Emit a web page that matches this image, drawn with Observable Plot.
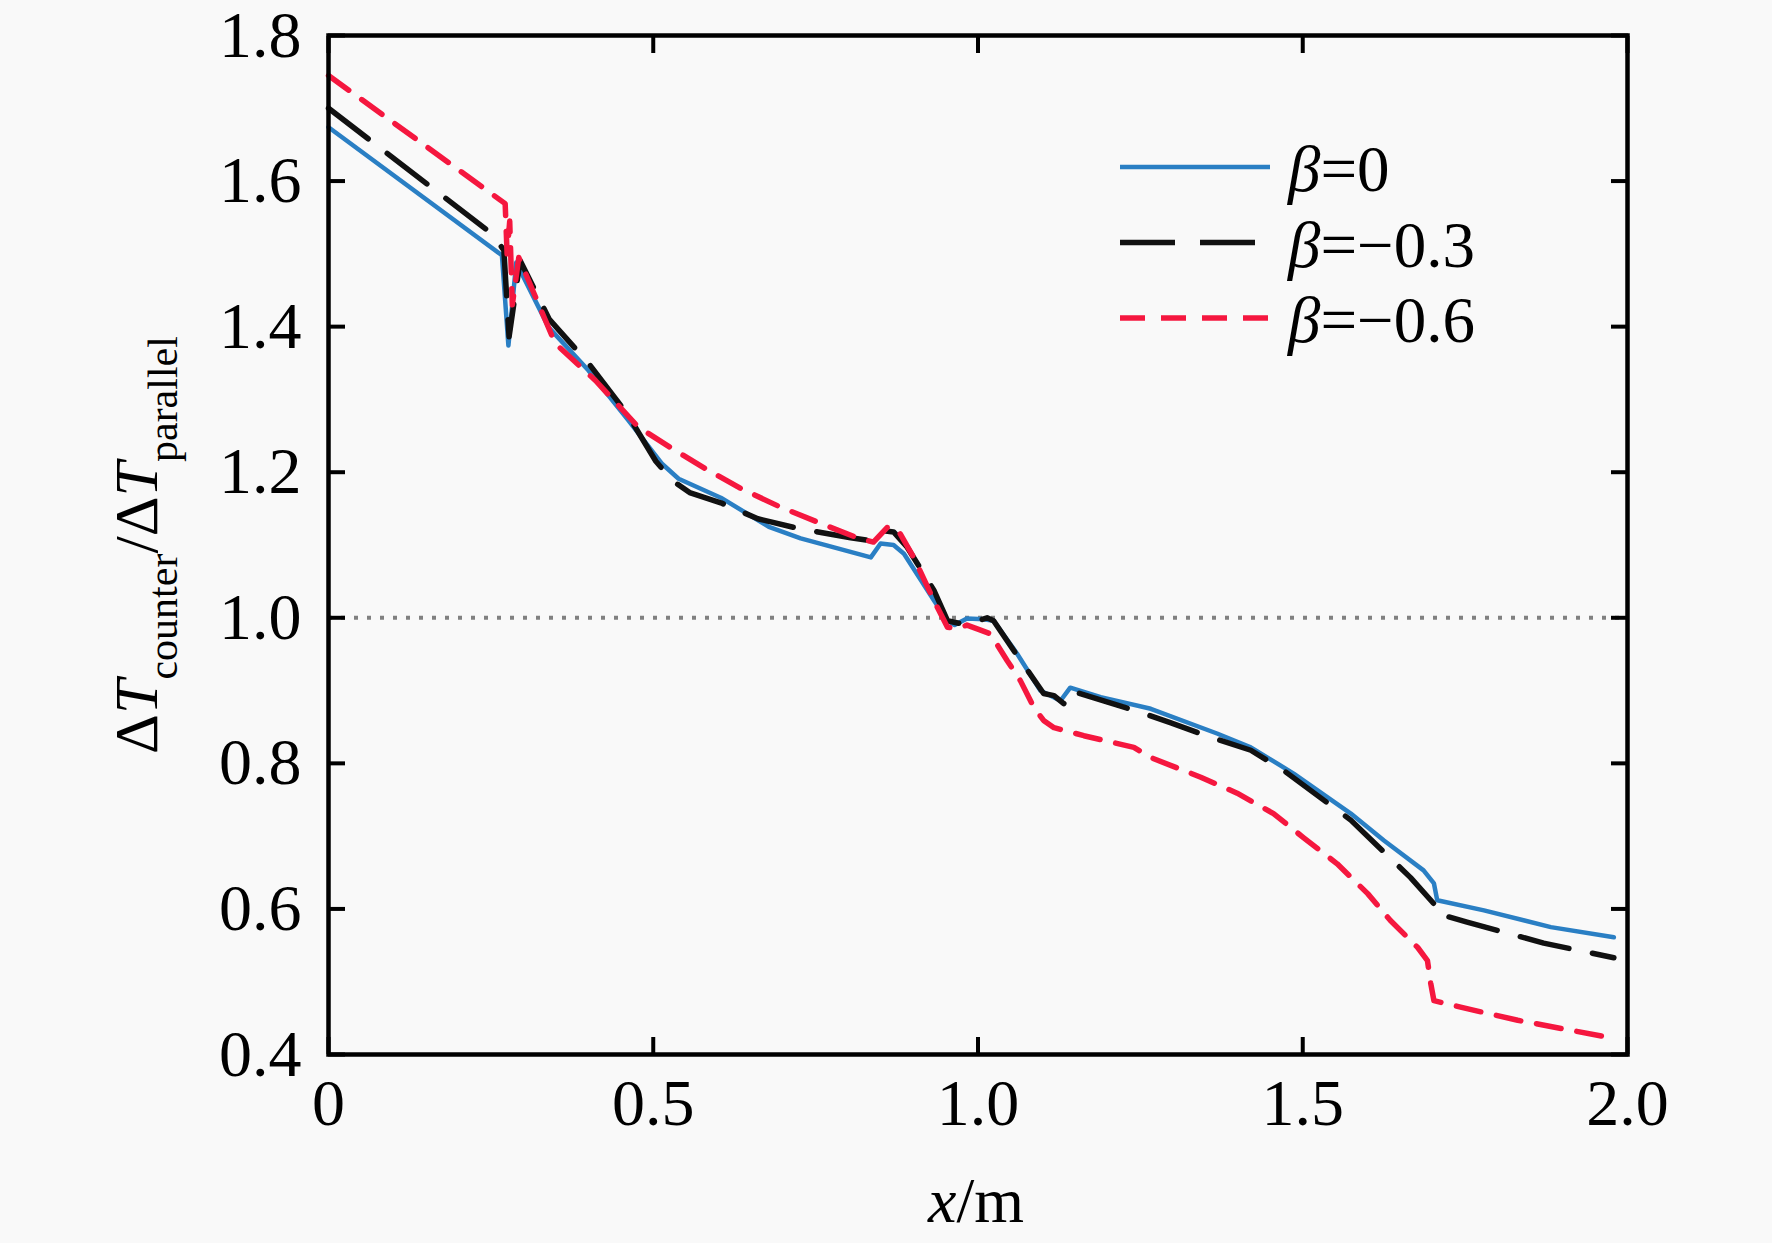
<!DOCTYPE html>
<html>
<head>
<meta charset="utf-8">
<script src="https://cdn.jsdelivr.net/npm/d3@7"></script>
<script src="https://cdn.jsdelivr.net/npm/@observablehq/plot@0.6"></script>
<style>
  html, body { margin: 0; padding: 0; background: #f9f9f9; }
  #chart { width: 1772px; height: 1243px; }
</style>
</head>
<body>
<div id="chart"></div>
<script>
// ---- data ----
const seriesNames = ["β=0", "β=−0.3", "β=−0.6"];

const b0X = [0, 0.267, 0.277, 0.289, 0.339, 0.400, 0.462, 0.513, 0.539, 0.604, 0.678, 0.727, 0.835, 0.850, 0.870, 0.886, 0.932, 0.953, 0.964, 0.983, 1.009, 1.024, 1.060, 1.096, 1.112, 1.127, 1.142, 1.189, 1.266, 1.368, 1.420, 1.486, 1.574, 1.625, 1.686, 1.702, 1.707, 1.779, 1.882, 1.979];
const b0Y = [1.674, 1.498, 1.374, 1.488, 1.399, 1.340, 1.271, 1.212, 1.191, 1.165, 1.125, 1.109, 1.083, 1.102, 1.100, 1.088, 1.024, 0.996, 0.990, 0.999, 0.998, 0.996, 0.951, 0.900, 0.893, 0.886, 0.904, 0.891, 0.875, 0.841, 0.822, 0.786, 0.731, 0.694, 0.653, 0.635, 0.612, 0.598, 0.575, 0.561];

const b3X = [0, 0.251, 0.270, 0.278, 0.295, 0.340, 0.400, 0.460, 0.504, 0.530, 0.556, 0.604, 0.661, 0.722, 0.804, 0.835, 0.850, 0.870, 0.891, 0.932, 0.953, 0.973, 1.000, 1.014, 1.024, 1.055, 1.101, 1.117, 1.132, 1.142, 1.240, 1.296, 1.358, 1.420, 1.471, 1.574, 1.666, 1.702, 1.705, 1.753, 1.871, 1.979];
const b3Y = [1.700, 1.528, 1.505, 1.386, 1.491, 1.410, 1.350, 1.280, 1.215, 1.188, 1.172, 1.158, 1.136, 1.123, 1.110, 1.106, 1.120, 1.118, 1.097, 1.038, 0.996, 0.992, 0.996, 1.000, 0.996, 0.955, 0.896, 0.893, 0.882, 0.900, 0.873, 0.856, 0.836, 0.818, 0.790, 0.722, 0.643, 0.607, 0.594, 0.582, 0.553, 0.533];

const b6X = [0, 0.272, 0.275, 0.279, 0.283, 0.293, 0.349, 0.411, 0.477, 0.530, 0.580, 0.634, 0.696, 0.757, 0.814, 0.839, 0.860, 0.876, 0.901, 0.932, 0.953, 0.968, 0.983, 1.004, 1.019, 1.045, 1.065, 1.086, 1.101, 1.117, 1.163, 1.240, 1.266, 1.343, 1.399, 1.455, 1.501, 1.553, 1.600, 1.635, 1.677, 1.692, 1.697, 1.702, 1.743, 1.831, 1.974];
const b6Y = [1.745, 1.569, 1.500, 1.545, 1.430, 1.495, 1.377, 1.326, 1.262, 1.232, 1.205, 1.178, 1.152, 1.130, 1.110, 1.104, 1.124, 1.122, 1.083, 1.024, 0.987, 0.985, 0.990, 0.983, 0.978, 0.941, 0.914, 0.877, 0.859, 0.849, 0.838, 0.822, 0.808, 0.781, 0.759, 0.731, 0.698, 0.662, 0.621, 0.584, 0.547, 0.529, 0.498, 0.474, 0.465, 0.447, 0.423];

const xTicks = [0, 0.5, 1, 1.5, 2];
const xTickLabels = ["0", "0.5", "1.0", "1.5", "2.0"];
const yTicks = [0.4, 0.6, 0.8, 1.0, 1.2, 1.4, 1.6, 1.8];
const yTickLabels = ["0.4", "0.6", "0.8", "1.0", "1.2", "1.4", "1.6", "1.8"];
const refLine = [1.0];

// ---- build ----
const pts = (xs, ys) => xs.map((x, i) => ({x, y: ys[i]}));
const colors = ["#2a7fc4", "#111111", "#f5173f"];
const dashes = [null, "50,24", "25,16"];
const widths = [4.5, 5.5, 5.5];
const series = [pts(b0X, b0Y), pts(b3X, b3Y), pts(b6X, b6Y)];

const font = "'Liberation Serif', 'Times New Roman', serif";
const fs = 66;

const chart = Plot.plot({
  width: 1772,
  height: 1243,
  marginLeft: 328,
  marginRight: 145,
  marginTop: 35,
  marginBottom: 189,
  x: {domain: [0, 2]},
  y: {domain: [0.4, 1.8]},
  style: {fontFamily: font, background: "#f9f9f9", color: "#000", overflow: "visible"},
  marks: [
    Plot.ruleY(refLine, {stroke: "#808080", strokeWidth: 4, strokeDasharray: "4,9"}),
    ...series.map((d, i) => Plot.line(d, {x: "x", y: "y", stroke: colors[i], strokeWidth: widths[i], strokeDasharray: dashes[i], strokeLinejoin: "round"})),
    Plot.frame({stroke: "#000", strokeWidth: 4.5}),
    Plot.axisX(xTicks, {anchor: "bottom", tickSize: 0, tickPadding: 24, fontSize: fs, label: null, tickFormat: d => xTickLabels[xTicks.indexOf(d)]}),
    Plot.axisX(xTicks, {anchor: "bottom", text: null, tickSize: -17, strokeWidth: 4, label: null}),
    Plot.axisX(xTicks, {anchor: "top", text: null, tickSize: -17, strokeWidth: 4, label: null}),
    Plot.axisY(yTicks, {anchor: "left", tickSize: 0, tickPadding: 27, fontSize: fs, label: null, tickFormat: d => yTickLabels[yTicks.indexOf(d)]}),
    Plot.axisY(yTicks, {anchor: "left", text: null, tickSize: -17, strokeWidth: 4, label: null}),
    Plot.axisY(yTicks, {anchor: "right", text: null, tickSize: -17, strokeWidth: 4, label: null})
  ]
});

document.getElementById("chart").appendChild(chart);

const svg = d3.select(chart);

// x-axis title
const xt = svg.append("text")
  .attr("x", 976).attr("y", 1222)
  .attr("text-anchor", "middle")
  .attr("font-family", font).attr("font-size", 64).attr("fill", "#000");
xt.append("tspan").attr("font-style", "italic").text("x");
xt.append("tspan").text("/m");

// y-axis title
const yt = svg.append("text")
  .attr("transform", "translate(157,545) rotate(-90)")
  .attr("text-anchor", "middle")
  .attr("font-family", font).attr("font-size", 62).attr("fill", "#000");
yt.append("tspan").text("Δ");
yt.append("tspan").attr("font-style", "italic").text("T");
yt.append("tspan").attr("font-size", 42).attr("dy", 20).text("counter");
yt.append("tspan").attr("dy", -20).text("/Δ");
yt.append("tspan").attr("font-style", "italic").text("T");
yt.append("tspan").attr("font-size", 42).attr("dy", 20).text("parallel");

// legend
const lg = svg.append("g");
seriesNames.forEach((name, i) => {
  const y = 167 + i * 75.5;
  lg.append("line")
    .attr("x1", 1120).attr("x2", 1270).attr("y1", y).attr("y2", y)
    .attr("stroke", colors[i]).attr("stroke-width", widths[i])
    .attr("stroke-dasharray", i === 1 ? "55,25" : dashes[i]);
  const t = lg.append("text")
    .attr("x", 1288).attr("y", y + 24)
    .attr("text-anchor", "start")
    .attr("font-family", font).attr("font-size", 65).attr("fill", "#000");
  t.append("tspan").attr("font-style", "italic").text("β");
  t.append("tspan").text(name.slice(1));
});
</script>
</body>
</html>
